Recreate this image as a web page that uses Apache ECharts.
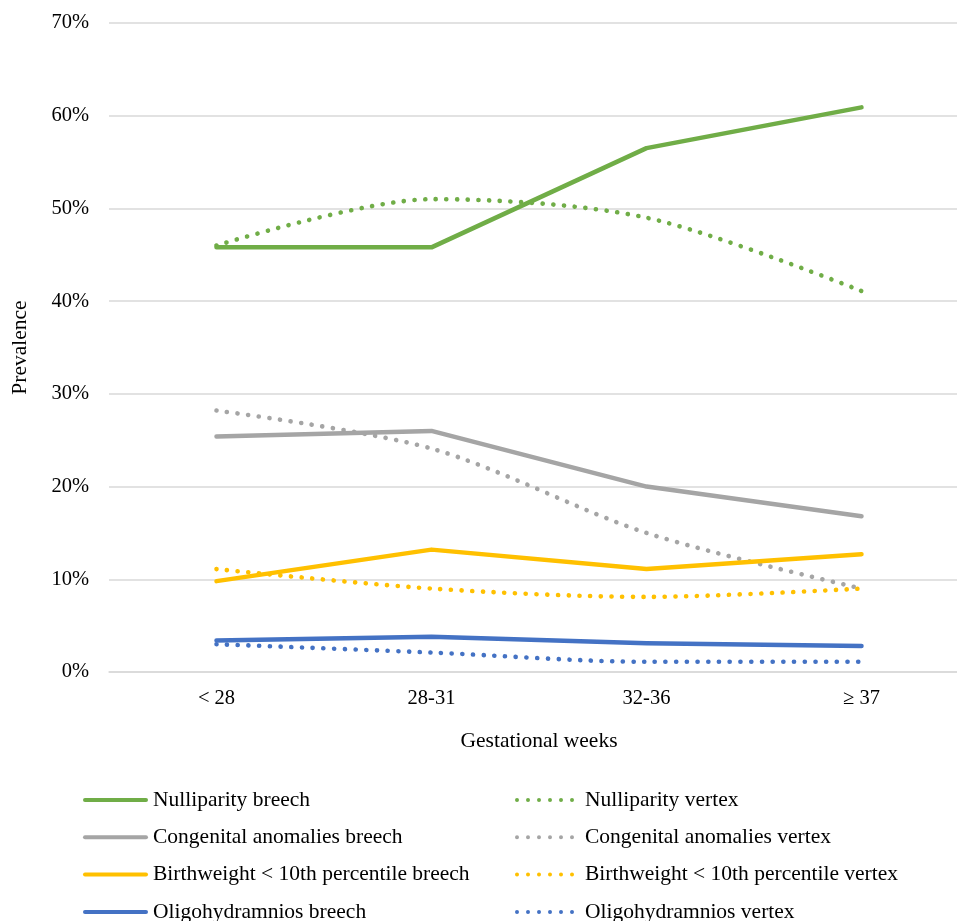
<!DOCTYPE html>
<html>
<head>
<meta charset="utf-8">
<script src="https://cdn.jsdelivr.net/npm/echarts@6/dist/echarts.min.js"></script>
<style>
html,body{margin:0;padding:0;background:#fff;}
#chart{width:957px;height:921px;}
</style>
</head>
<body>
<div id="chart"></div>
<script>
const categories = ['< 28', '28-31', '32-36', '\u2265 37'];
const nulliparityBreech = [45.8, 45.8, 56.5, 60.9];
const nulliparityVertex = [46.0, 51.0, 49.0, 41.1];
const congenitalBreech = [25.4, 26.0, 20.0, 16.8];
const congenitalVertex = [28.2, 24.1, 15.0, 9.0];
const birthweightBreech = [9.8, 13.2, 11.1, 12.7];
const birthweightVertex = [11.1, 9.0, 8.1, 9.0];
const oligoBreech = [3.4, 3.8, 3.1, 2.8];
const oligoVertex = [3.0, 2.1, 1.1, 1.1];

const yTicks = [0, 10, 20, 30, 40, 50, 60, 70];

const breechNames = ['Nulliparity breech', 'Congenital anomalies breech', 'Birthweight < 10th percentile breech', 'Oligohydramnios breech'];
const vertexNames = ['Nulliparity vertex', 'Congenital anomalies vertex', 'Birthweight < 10th percentile vertex', 'Oligohydramnios vertex'];

const GREEN = '#70AD47', GRAY = '#A5A5A5', YELLOW = '#FFC000', BLUE = '#4472C4';
const COLORS = [GREEN, GRAY, YELLOW, BLUE];
const FONT = '"Liberation Serif", "Times New Roman", serif';

function solid(name, data, color) {
  return {
    name, type: 'line', data, symbol: 'none', smooth: false,
    lineStyle: { color, width: 4.5, cap: 'round', join: 'round' },
    itemStyle: { color },
    z: 3
  };
}
function dotted(name, data, color) {
  return {
    name, type: 'line', data, symbol: 'none', smooth: 0.3,
    lineStyle: { color, width: 4.6, type: [0.1, 10.6], cap: 'round' },
    itemStyle: { color },
    z: 2
  };
}

// legend icons
const solidIcon = 'path://M2,0 L63,0 A2,2 0 0,1 63,4 L2,4 A2,2 0 0,1 2,0 Z';
let dotPath = '';
for (let i = 0; i < 6; i++) {
  const cx = 2 + i * 11;
  dotPath += 'M' + (cx - 2) + ',2 A2,2 0 1,0 ' + (cx + 2) + ',2 A2,2 0 1,0 ' + (cx - 2) + ',2 Z ';
}
const dotIcon = 'path://' + dotPath.trim();

const rowCenters = [800, 837.3, 874.6, 912];
const legends = [];
breechNames.forEach((n, i) => {
  legends.push({
    left: 83, top: rowCenters[i] - 12, orient: 'vertical',
    itemWidth: 65, itemHeight: 4.5, itemGap: 0, padding: 0,
    textStyle: { color: '#000', fontFamily: FONT, fontSize: 21.5, lineHeight: 24 },
    data: [{ name: n, icon: solidIcon, itemStyle: { color: COLORS[i] } }]
  });
});
vertexNames.forEach((n, i) => {
  legends.push({
    left: 515, top: rowCenters[i] - 12, orient: 'vertical',
    itemWidth: 59, itemHeight: 4.2, itemGap: 0, padding: 0,
    textStyle: { color: '#000', fontFamily: FONT, fontSize: 21.5, lineHeight: 24, padding: [0, 0, 0, 6] },
    data: [{ name: n, icon: dotIcon, itemStyle: { color: COLORS[i] } }]
  });
});

const chart = echarts.init(document.getElementById('chart'));
chart.setOption({
  animation: false,
  backgroundColor: '#fff',
  grid: { left: 109, right: -12, top: 23, bottom: 921 - 672, containLabel: false, outerBoundsMode: 'none' },
  xAxis: {
    type: 'category', data: categories, boundaryGap: true,
    axisLine: { show: true, lineStyle: { color: '#D9D9D9', width: 1.5 } },
    axisTick: { show: false },
    axisLabel: { color: '#000', fontFamily: FONT, fontSize: 20.5, margin: 16 },
    name: 'Gestational weeks', nameLocation: 'middle', nameGap: 58,
    nameTextStyle: { color: '#000', fontFamily: FONT, fontSize: 21.5 },
    splitLine: { show: false }
  },
  yAxis: {
    type: 'value', min: yTicks[0], max: yTicks[yTicks.length - 1], interval: 10,
    axisLine: { show: false }, axisTick: { show: false },
    axisLabel: { color: '#000', fontFamily: FONT, fontSize: 20.5, margin: 20, formatter: '{value}%' },
    splitLine: { show: true, lineStyle: { color: '#D9D9D9', width: 1.5 } },
    name: 'Prevalence', nameLocation: 'middle', nameGap: 78, nameRotate: 90,
    nameTextStyle: { color: '#000', fontFamily: FONT, fontSize: 21.5 }
  },
  legend: legends,
  series: [
    solid(breechNames[0], nulliparityBreech, GREEN),
    dotted(vertexNames[0], nulliparityVertex, GREEN),
    solid(breechNames[1], congenitalBreech, GRAY),
    dotted(vertexNames[1], congenitalVertex, GRAY),
    solid(breechNames[2], birthweightBreech, YELLOW),
    dotted(vertexNames[2], birthweightVertex, YELLOW),
    solid(breechNames[3], oligoBreech, BLUE),
    dotted(vertexNames[3], oligoVertex, BLUE)
  ]
});
</script>
</body>
</html>
